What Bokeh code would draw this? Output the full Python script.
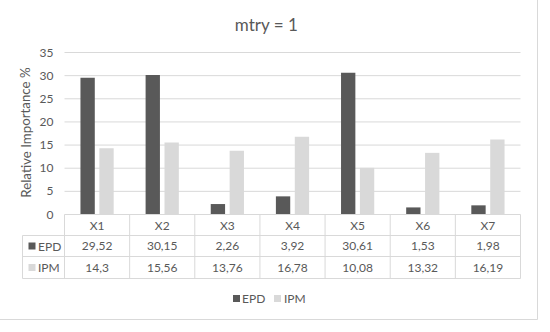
from bokeh.plotting import figure
from bokeh.models import Range1d
from bokeh.embed import file_html
from bokeh.resources import INLINE
from bokeh.core.properties import value

# ---- data ----
categories = ["X1", "X2", "X3", "X4", "X5", "X6", "X7"]
series_names = ["EPD", "IPM"]
epd = [29.52, 30.15, 2.26, 3.92, 30.61, 1.53, 1.98]
ipm = [14.3, 15.56, 13.76, 16.78, 10.08, 13.32, 16.19]
y_ticks = [0, 5, 10, 15, 20, 25, 30, 35]
title_text = "mtry = 1"
y_label = "Relative Importance %"

# ---- styling / layout (reference pixel geometry) ----
FONT = "Lato"
TXT = "#595959"
C_EPD = "#595959"
C_IPM = "#d9d9d9"
GRID = "#d9d9d9"

OX, OY = 4, 4           # figure origin on page
W, H = 542, 324
PX0, PX1 = 72, 528      # plot area left/right
PY0, PY35 = 222, 60     # y=0 and y=35 pixel rows
SX = (PX1 - PX0) / len(categories)
SY = (PY0 - PY35) / 35.0

def dx(px):
    return (px - PX0) / SX

def dy(py):
    return (PY0 - py) / SY

p = figure(width=W, height=H, output_backend="svg", toolbar_location=None,
           x_axis_location=None, y_axis_location=None,
           x_range=Range1d(dx(OX), dx(OX + W)), y_range=Range1d(dy(OY + H), dy(OY)),
           min_border=0, styles={"margin": "-4px"})
p.xgrid.visible = False
p.ygrid.visible = False
p.outline_line_color = "#d9d9d9"
p.background_fill_color = "white"

n = len(categories)
centers = [i + 0.5 for i in range(n)]

# gridlines
gy = [t for t in y_ticks if t > 0]
p.segment(x0=[0] * len(gy), x1=[n] * len(gy), y0=gy, y1=gy, line_color=GRID, line_width=1)

# bars
bw = 0.22
off = 0.145
p.vbar(x=[c - off for c in centers], top=epd, bottom=0, width=bw, fill_color=C_EPD, line_color=None)
p.vbar(x=[c + off for c in centers], top=ipm, bottom=0, width=bw, fill_color=C_IPM, line_color=None)

# y tick labels
p.text(x=[dx(61)] * len(y_ticks), y=y_ticks, text=[str(t) for t in y_ticks],
       text_font=value(FONT), text_font_size="12px", text_color=TXT,
       text_align="right", text_baseline="middle")

# y axis label
p.text(x=[dx(33)], y=[dy(140)], text=[y_label], angle=1.5708,
       text_font=value(FONT), text_font_size="13.3px", text_color=TXT,
       text_align="center", text_baseline="middle")

# title
p.text(x=[dx(274)], y=[dy(31.5)], text=[title_text],
       text_font=value(FONT), text_font_size="17px", text_color=TXT,
       text_align="center", text_baseline="middle")

# data table lines
TL = 30
r_top, r1, r2, r_bot = 222, 243, 264, 286
hx0 = [dx(PX0), dx(TL), dx(TL), dx(TL)]
hx1 = [n] * 4
hy = [dy(r_top), dy(r1), dy(r2), dy(r_bot)]
p.segment(x0=hx0, x1=hx1, y0=hy, y1=hy, line_color=GRID, line_width=1)
vx = list(range(n + 1))
p.segment(x0=vx, x1=vx, y0=[dy(r_top)] * len(vx), y1=[dy(r_bot)] * len(vx), line_color=GRID, line_width=1)
p.segment(x0=[dx(TL)], x1=[dx(TL)], y0=[dy(r1)], y1=[dy(r_bot)], line_color=GRID, line_width=1)

def fmt(v):
    return str(v).replace(".", ",")

cell_kw = dict(text_font=value(FONT), text_font_size="12px", text_color=TXT,
               text_align="center", text_baseline="middle")
p.text(x=centers, y=[dy(232.5)] * n, text=categories, **cell_kw)
p.text(x=centers, y=[dy(253.5)] * n, text=[fmt(v) for v in epd], **cell_kw)
p.text(x=centers, y=[dy(275)] * n, text=[fmt(v) for v in ipm], **cell_kw)

# legend keys inside table
p.rect(x=[dx(39.5)] * 2, y=[dy(253.5), dy(275)], width=7, height=7,
       width_units="screen", height_units="screen",
       fill_color=[C_EPD, C_IPM], line_color=None)
p.text(x=[dx(45.5)] * 2, y=[dy(253.5), dy(275)], text=series_names,
       text_font=value(FONT), text_font_size="12px", text_color=TXT,
       text_align="left", text_baseline="middle")

# bottom legend
p.rect(x=[dx(244), dx(285)], y=[dy(306)] * 2, width=7, height=7,
       width_units="screen", height_units="screen",
       fill_color=[C_EPD, C_IPM], line_color=None)
p.text(x=[dx(249.5), dx(291.5)], y=[dy(306)] * 2, text=series_names,
       text_font=value(FONT), text_font_size="12px", text_color=TXT,
       text_align="left", text_baseline="middle")

open("out.html", "w").write(file_html(p, INLINE))
